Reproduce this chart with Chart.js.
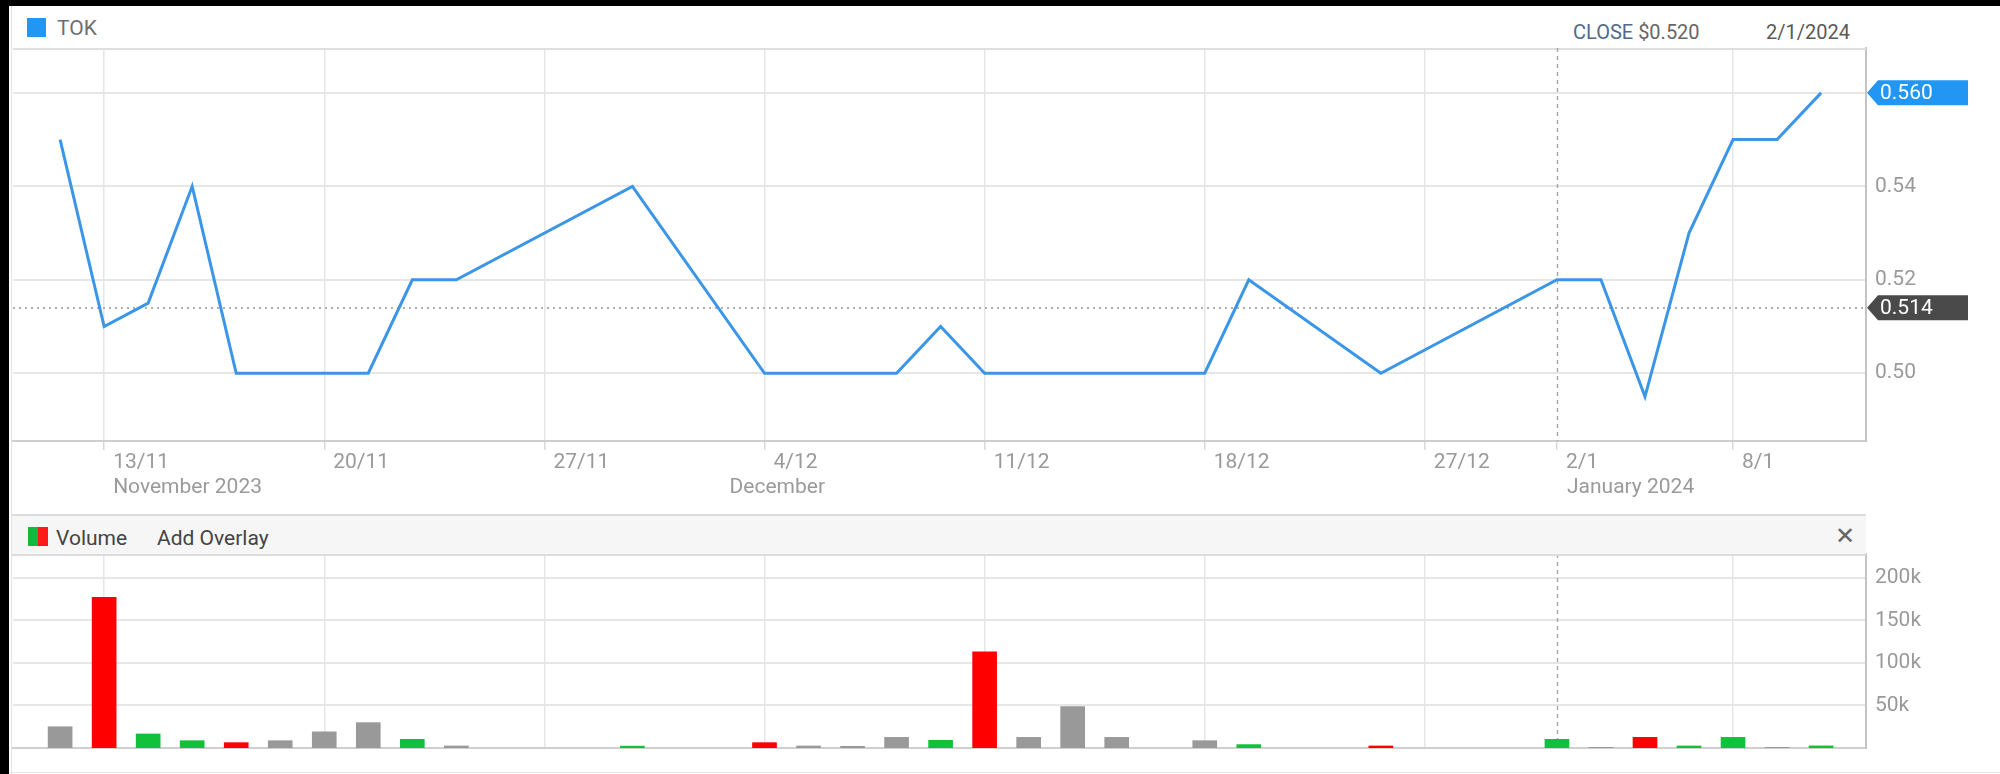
<!DOCTYPE html>
<html>
<head>
<meta charset="utf-8">
<title>TOK</title>
<script src="https://cdn.jsdelivr.net/npm/chart.js@4.4.1/dist/chart.umd.min.js"></script>
<style>
  html, body { margin: 0; padding: 0; background: #fff; }
  body { font-family: Roboto, "Open Sans", sans-serif; }

  .frame { position: relative; width: 2000px; height: 774px; overflow: hidden; background: #fff; }
  .edge-left { position: absolute; left: 0; top: 0; width: 9px; height: 774px; background: #000; }
  .edge-top { position: absolute; left: 0; top: 0; width: 2000px; height: 6px; background: #000; }
  .inner-left { position: absolute; left: 11px; top: 6px; width: 1px; height: 768px; background: #e4e4e4; }
  .inner-bottom { position: absolute; left: 9px; top: 772px; width: 1991px; height: 1px; background: #e6e6e6; }

  .legend { position: absolute; left: 27px; top: 18px; height: 20px; }
  .legend__swatch { position: absolute; left: 0; top: 0; width: 19px; height: 19px; background: #2196f3; }
  .legend__label { position: absolute; left: 30px; top: 0; font-size: 21px; line-height: 21px; color: #707070; }

  .readout { position: absolute; top: 22px; font-size: 20px; line-height: 20px; color: #666; white-space: nowrap; }
  .readout--close { left: 1573px; }
  .readout--close b { font-weight: normal; color: #4f6b88; }
  .readout--date { left: 1766px; color: #5a5a5a; }

  .pane { position: absolute; left: 0; width: 2000px; }
  .pane--price { top: 0; height: 514px; }
  .pane--volume { top: 524px; height: 250px; }

  .vol-header { position: absolute; left: 12px; top: 514px; width: 1854px; height: 38px;
                background: #f6f6f6; border-top: 2px solid #dcdcdc; border-bottom: 2px solid #dcdcdc; }
  .vol-header__icon { position: absolute; left: 16px; top: 11px; width: 10px; height: 19px; background: #14b83c; }
  .vol-header__icon + .vol-header__icon { left: 26px; background: #ff1a1a; }
  .vol-header__text { position: absolute; top: 12px; font-size: 21px; line-height: 21px; color: #444; }
  .vol-header__close { position: absolute; left: 1823px; top: 8px; font-size: 24px; line-height: 24px; color: #666; }
</style>
</head>
<body>
<div class="frame">
  <div class="legend"><span class="legend__swatch"></span><span class="legend__label">TOK</span></div>
  <div class="readout readout--close"><b>CLOSE</b> <span id="close-value"></span></div>
  <div class="readout readout--date">2/1/2024</div>

  <div class="pane pane--price"><canvas id="price-chart"></canvas></div>
  <div class="pane pane--volume"><canvas id="volume-chart"></canvas></div>

  <div class="vol-header">
    <span class="vol-header__icon"></span><span class="vol-header__icon"></span>
    <span class="vol-header__text" style="left:44px">Volume</span>
    <span class="vol-header__text" style="left:145px">Add Overlay</span>
    <span class="vol-header__close">&#x2715;</span>
  </div>

  <div class="edge-left"></div>
  <div class="edge-top"></div>
  <div class="inner-left"></div>
  <div class="inner-bottom"></div>
</div>

<script>
// ── Data ──────────────────────────────────
// one entry per ASX trading day, 10 Nov 2023 – 10 Jan 2024 (null = no trades)
var dates = [
  "10/11", "13/11", "14/11", "15/11", "16/11", "17/11",
  "20/11", "21/11", "22/11", "23/11", "24/11",
  "27/11", "28/11", "29/11", "30/11", "1/12",
  "4/12", "5/12", "6/12", "7/12", "8/12",
  "11/12", "12/12", "13/12", "14/12", "15/12",
  "18/12", "19/12", "20/12", "21/12", "22/12",
  "27/12", "28/12", "29/12",
  "2/1", "3/1", "4/1", "5/1",
  "8/1", "9/1", "10/1"
];

var closes = [
  0.55, 0.51, 0.515, 0.54, 0.50, 0.50,
  0.50, 0.50, 0.52, 0.52, null,
  null, null, 0.54, null, null,
  0.50, 0.50, 0.50, 0.50, 0.51,
  0.50, 0.50, 0.50, 0.50, null,
  0.50, 0.52, null, null, 0.50,
  null, null, null,
  0.52, 0.52, 0.495, 0.53,
  0.55, 0.55, 0.56
];

var volumes = [
  25000, 177000, 16500, 8600, 6300, 8600,
  19000, 29800, 10200, 2400, null,
  null, null, 2200, null, null,
  6300, 2400, 2000, 12500, 9000,
  113000, 12500, 48600, 12500, null,
  8600, 4000, null, null, 2400,
  null, null, null,
  10200, 800, 12500, 2400,
  12500, 800, 2500
];

var dayTickLabels = ["13/11", "20/11", "27/11", "4/12", "11/12", "18/12", "27/12", "2/1", "8/1"];
var monthLabels = [
  { day: "13/11", text: "November 2023" },
  { day: "4/12", text: "December" },
  { day: "2/1", text: "January 2024" }
];
var priceTicks = [0.50, 0.52, 0.54, 0.56];
var volumeTicks = [50000, 100000, 150000, 200000];
var crossDay = "2/1";
var refPrice = 0.514;

(function () {
  "use strict";

  var FONT = "Roboto, 'Open Sans', sans-serif";
  var TEXT_GREY = "#9a9a9a";
  var GRID = "#e6e6e6";
  var AXIS = "#cfcfcf";
  var COLORS = { up: "#12c13a", down: "#ff0000", flat: "#999999", line: "#3b96e8" };

  var crossIndex = dates.indexOf(crossDay);
  var tickIndexes = dayTickLabels.map(function (d) { return dates.indexOf(d); });
  var lastPrice = null;
  closes.forEach(function (c) { if (c !== null) lastPrice = c; });

  document.getElementById("close-value").textContent = "$" + closes[crossIndex].toFixed(3);

  // bar colour from change against the previous traded close
  var barColors = [];
  var prev = null;
  closes.forEach(function (c) {
    if (c === null) { barColors.push(COLORS.flat); return; }
    if (prev === null || c === prev) barColors.push(COLORS.flat);
    else barColors.push(c > prev ? COLORS.up : COLORS.down);
    prev = c;
  });

  var X_MIN = -1.07;
  var X_MAX = 41.02;

  function fitWidth(w) { return function (scale) { scale.width = w; }; }
  function fitHeight(h) { return function (scale) { scale.height = h; }; }

  // ── Overlay lines: crosshair, reference price, top frame ──
  var overlayLines = {
    id: "overlayLines",
    beforeDatasetsDraw: function (chart, args, opts) {
      var ctx = chart.ctx;
      var area = chart.chartArea;
      var xs = chart.scales.x;
      var ys = chart.scales.y;
      ctx.save();
      if (opts.frameTop) {
        ctx.strokeStyle = "#dedede";
        ctx.lineWidth = 2;
        ctx.beginPath();
        ctx.moveTo(area.left, area.top + 1);
        ctx.lineTo(area.right, area.top + 1);
        ctx.stroke();
      }
      var cx = Math.round(xs.getPixelForValue(crossIndex)) + 0.5;
      ctx.strokeStyle = "#a9a9a9";
      ctx.lineWidth = 1.5;
      ctx.setLineDash([4, 4]);
      ctx.beginPath();
      ctx.moveTo(cx, area.top);
      ctx.lineTo(cx, area.bottom);
      ctx.stroke();
      if (opts.refValue != null) {
        var ry = Math.round(ys.getPixelForValue(opts.refValue));
        ctx.strokeStyle = "#b0b0b0";
        ctx.lineWidth = 2;
        ctx.setLineDash([2, 4]);
        ctx.beginPath();
        ctx.moveTo(area.left, ry);
        ctx.lineTo(area.right, ry);
        ctx.stroke();
      }
      ctx.restore();
    }
  };

  // ── Price tags on the right axis ──
  var priceTags = {
    id: "priceTags",
    afterDraw: function (chart, args, opts) {
      var ctx = chart.ctx;
      var area = chart.chartArea;
      var ys = chart.scales.y;
      ctx.save();
      opts.tags.forEach(function (t) {
        var y = ys.getPixelForValue(t.value);
        var x0 = area.right + 1;
        ctx.fillStyle = t.color;
        ctx.beginPath();
        ctx.moveTo(x0, y);
        ctx.lineTo(x0 + 11, y - 12.5);
        ctx.lineTo(x0 + 101, y - 12.5);
        ctx.lineTo(x0 + 101, y + 12.5);
        ctx.lineTo(x0 + 11, y + 12.5);
        ctx.closePath();
        ctx.fill();
        ctx.fillStyle = "#fff";
        ctx.font = "21px " + FONT;
        ctx.textAlign = "left";
        ctx.textBaseline = "middle";
        ctx.fillText(t.value.toFixed(3), x0 + 13, y + 1);
      });
      ctx.restore();
    }
  };

  // ── Month names under the first day of each month ──
  var monthRow = {
    id: "monthRow",
    afterDraw: function (chart) {
      var ctx = chart.ctx;
      var xs = chart.scales.x;
      var offsets = [9, -35, 10];
      ctx.save();
      ctx.font = "21px " + FONT;
      ctx.fillStyle = TEXT_GREY;
      ctx.textAlign = "left";
      ctx.textBaseline = "middle";
      monthLabels.forEach(function (m, i) {
        var x = xs.getPixelForValue(dates.indexOf(m.day));
        ctx.fillText(m.text, x + offsets[i], 488);
      });
      ctx.restore();
    }
  };

  function xScale(showLabels, height) {
    return {
      type: "linear",
      min: X_MIN,
      max: X_MAX,
      offset: false,
      afterBuildTicks: function (scale) {
        scale.ticks = tickIndexes.map(function (i) { return { value: i }; });
      },
      afterFit: fitHeight(height),
      ticks: {
        display: showLabels,
        autoSkip: false,
        maxRotation: 0,
        align: "start",
        labelOffset: 9,
        padding: 0,
        color: TEXT_GREY,
        font: { family: FONT, size: 21 },
        callback: function (v) { return dates[v]; }
      },
      grid: {
        offset: false,
        color: function (ctx) {
          return ctx.tick && ctx.tick.value === crossIndex ? "rgba(0,0,0,0)" : GRID;
        },
        lineWidth: 1.5,
        drawTicks: showLabels,
        tickLength: 9,
        tickColor: "#dadada"
      },
      border: { display: true, color: AXIS, width: 2 }
    };
  }

  function yScale(ticks, min, max, fmt) {
    return {
      position: "right",
      min: min,
      max: max,
      afterBuildTicks: function (scale) {
        scale.ticks = ticks.map(function (v) { return { value: v }; });
      },
      afterFit: fitWidth(134),
      ticks: {
        padding: 9,
        color: TEXT_GREY,
        font: { family: FONT, size: 21 },
        callback: fmt
      },
      grid: { color: GRID, lineWidth: 2, drawTicks: false },
      border: { display: true, color: "#c4c4c4", width: 2 }
    };
  }

  // ── Price chart ────────────────────────────
  new Chart(document.getElementById("price-chart"), {
    type: "line",
    data: {
      datasets: [{
        data: closes.map(function (c, i) { return { x: i, y: c }; }),
        borderColor: COLORS.line,
        borderWidth: 3,
        pointRadius: 0,
        tension: 0,
        spanGaps: true
      }]
    },
    options: {
      responsive: true,
      maintainAspectRatio: false,
      animation: false,
      layout: { autoPadding: false, padding: { left: 13, top: 48, right: 0, bottom: 0 } },
      plugins: {
        legend: { display: false },
        tooltip: { enabled: false },
        overlayLines: { refValue: refPrice, frameTop: true },
        priceTags: {
          tags: [
            { value: lastPrice, color: "#2196f3" },
            { value: refPrice, color: "#4a4a4a" }
          ]
        }
      },
      scales: {
        x: xScale(true, 73),
        y: yScale(priceTicks, 0.4855, 0.5696, function (v) {
          return Math.abs(v - 0.56) < 1e-6 ? "" : v.toFixed(2);
        })
      }
    },
    plugins: [overlayLines, priceTags, monthRow]
  });

  // ── Volume chart ───────────────────────────
  new Chart(document.getElementById("volume-chart"), {
    type: "bar",
    data: {
      datasets: [{
        data: volumes.map(function (v, i) { return { x: i, y: v }; }),
        backgroundColor: barColors,
        barThickness: 24,
        borderWidth: 0
      }]
    },
    options: {
      responsive: true,
      maintainAspectRatio: false,
      animation: false,
      layout: { autoPadding: false, padding: { left: 13, top: 30, right: 0, bottom: 0 } },
      plugins: {
        legend: { display: false },
        tooltip: { enabled: false },
        overlayLines: { refValue: null, frameTop: false }
      },
      scales: {
        x: xScale(false, 26),
        y: yScale(volumeTicks, 0, 228000, function (v) {
          return v / 1000 + "k";
        })
      }
    },
    plugins: [overlayLines]
  });
})();
</script>
</body>
</html>
